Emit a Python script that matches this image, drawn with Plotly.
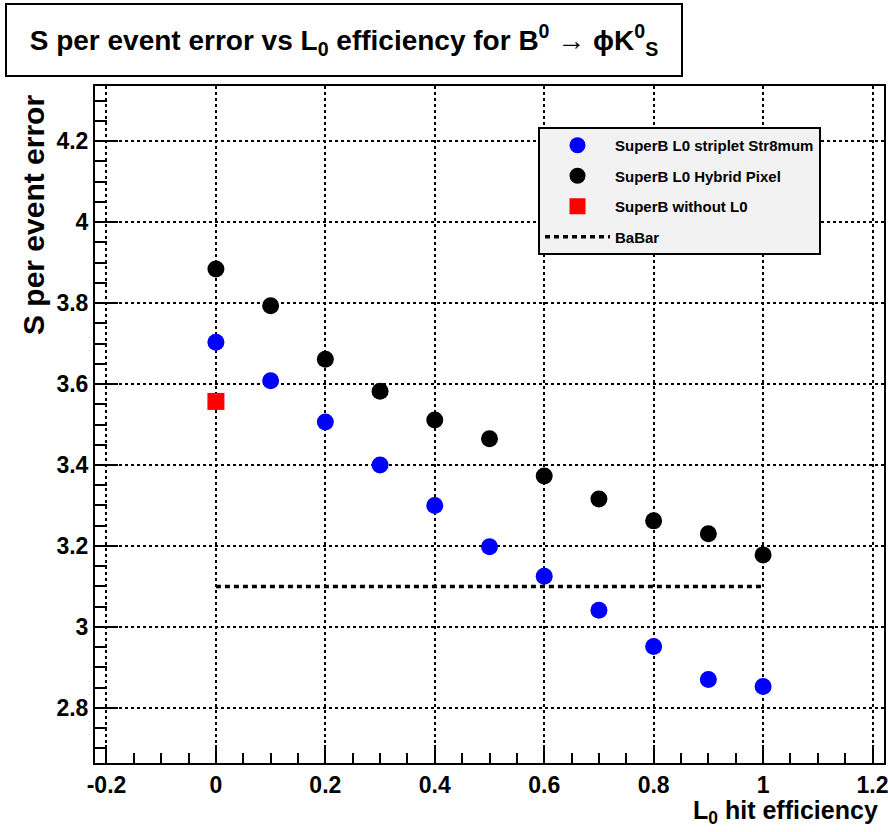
import plotly.graph_objects as go

# ---- data ----
eff = [0.0, 0.1, 0.2, 0.3, 0.4, 0.5, 0.6, 0.7, 0.8, 0.9, 1.0]
striplet = [3.703, 3.608, 3.506, 3.400, 3.300, 3.198, 3.125, 3.041, 2.952, 2.870, 2.853]
hybrid = [3.884, 3.793, 3.661, 3.582, 3.511, 3.465, 3.373, 3.316, 3.262, 3.230, 3.178]
no_l0_x = [0.0]
no_l0_y = [3.557]
babar_x = [0.0, 1.0]
babar_y = [3.1, 3.1]

x_ticks = [-0.2, 0, 0.2, 0.4, 0.6, 0.8, 1, 1.2]
y_ticks = [2.8, 3.0, 3.2, 3.4, 3.6, 3.8, 4.0, 4.2]

FONT = "Liberation Sans, Arial, Helvetica, sans-serif"

W, H = 888, 832
L, R, T, B = 95, 4, 86, 69
pw, ph = W - L - R, H - T - B

def px(xp):
    return (xp - L) / pw

def py(yp):
    return (H - B - yp) / ph

fig = go.Figure()
fig.add_trace(go.Scatter(x=eff, y=striplet, mode="markers", name="SuperB L0 striplet Str8mum",
                         marker=dict(symbol="circle", size=17, color="#0000ff"), legendgroup="a"))
fig.add_trace(go.Scatter(x=eff, y=hybrid, mode="markers", name="SuperB L0 Hybrid Pixel",
                         marker=dict(symbol="circle", size=17, color="black"), legendgroup="b"))
fig.add_trace(go.Scatter(x=no_l0_x, y=no_l0_y, mode="markers", name="SuperB without L0",
                         marker=dict(symbol="square", size=17, color="#ff0000"), legendgroup="c"))
fig.add_trace(go.Scatter(x=babar_x, y=babar_y, mode="lines", name="BaBar",
                         line=dict(color="black", width=3.5, dash="5px,4px"), legendgroup="d"))

axis_common = dict(
    showline=True, linecolor="black", linewidth=2, mirror=True,
    showgrid=True, gridcolor="black", griddash="dot", gridwidth=1.5,
    zeroline=False, ticks="inside", tickcolor="black", tickwidth=2,
    ticklabeloverflow="allow", automargin=False,
    tickfont=dict(family=FONT, size=23, color="black", weight="bold"),
)

fig.update_xaxes(range=[-0.221, 1.221], tickvals=x_ticks,
                 ticktext=[f"{v:g}" for v in x_ticks], ticklen=18,
                 minor=dict(dtick=0.05, tick0=0, ticks="inside", ticklen=10, tickcolor="black",
                            tickwidth=2, showgrid=False),
                 **axis_common)
fig.update_yaxes(range=[2.664, 4.336], tickvals=y_ticks,
                 ticktext=[f"{v:g}" for v in y_ticks], ticklen=23,
                 minor=dict(dtick=0.05, tick0=0, ticks="inside", ticklen=12, tickcolor="black",
                            tickwidth=2, showgrid=False),
                 **axis_common)

annotations = [
    dict(text="S per event error vs L<sub>0</sub> efficiency for B<sup>0</sup> \u2192 \u03d5K<sup>0</sup><sub>S</sub>",
         xref="paper", yref="paper", x=px(5), y=py(3), xanchor="left", yanchor="top",
         showarrow=False, width=674, height=70, align="center", valign="middle",
         bordercolor="black", borderwidth=2, bgcolor="white", borderpad=0,
         font=dict(family=FONT, size=28, color="black", weight="bold")),
    dict(text="S per event error", xref="paper", yref="paper", x=px(33), y=py(215),
         xanchor="center", yanchor="middle", textangle=-90, showarrow=False,
         font=dict(family=FONT, size=30, color="black", weight="bold")),
    dict(text="L<sub>0</sub> hit efficiency", xref="paper", yref="paper", x=px(880), y=py(812),
         xanchor="right", yanchor="middle", showarrow=False,
         font=dict(family=FONT, size=25, color="black", weight="bold")),
]

fig.update_layout(
    width=W, height=H, margin=dict(l=L, r=R, t=T, b=B),
    paper_bgcolor="white", plot_bgcolor="white",
    showlegend=True,
    legend=dict(x=px(538), y=py(127), xanchor="left", yanchor="top",
                bgcolor="#f2f2f2", bordercolor="black", borderwidth=2,
                font=dict(family=FONT, size=15, color="black", weight="bold"),
                itemwidth=65, tracegroupgap=8, traceorder="grouped",
                itemsizing="trace"),
    annotations=annotations,
)

fig.write_html("out.html")
